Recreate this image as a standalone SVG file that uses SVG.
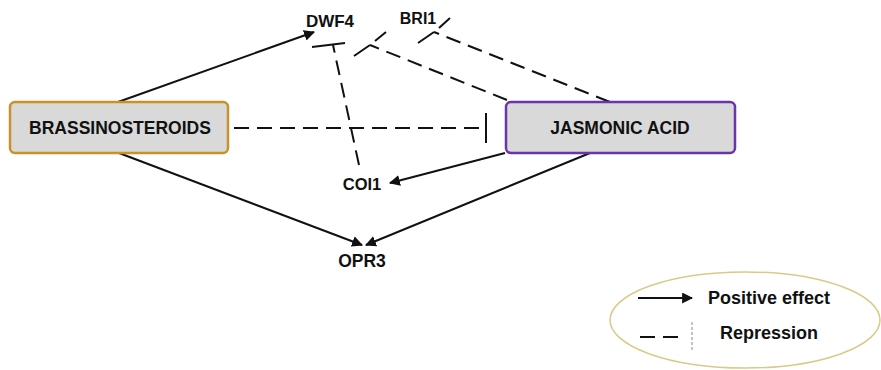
<svg xmlns="http://www.w3.org/2000/svg" width="881" height="370" viewBox="0 0 881 370">
  <defs>
    <marker id="arrow" viewBox="0 0 10 10" refX="9" refY="5" markerWidth="5.5" markerHeight="5.5" orient="auto" markerUnits="strokeWidth">
      <path d="M0,0 L10,5 L0,10 z" fill="#111"/>
    </marker>
    <style>
      .box { fill: #d9d9d9; stroke-width: 2.5; }
      .lbl { font-family: "Liberation Sans", Arial, sans-serif; font-weight: bold; fill: #111; }
      .pos { stroke: #111; stroke-width: 2; fill: none; marker-end: url(#arrow); }
      .rep { stroke: #111; stroke-width: 2; fill: none; stroke-dasharray: 15 8; }
      .bar { stroke: #111; stroke-width: 2; fill: none; }
    </style>
  </defs>
  <rect width="881" height="370" fill="#fff"/>

  <g id="connectors">
    <!-- positive effects -->
    <line class="pos" x1="118" y1="102" x2="314" y2="32"/>
    <line class="pos" x1="505" y1="153" x2="390" y2="183"/>
    <line class="pos" x1="119" y1="153" x2="362" y2="245"/>
    <line class="pos" x1="590" y1="153" x2="366" y2="245"/>

    <!-- brassinosteroids repress jasmonic acid -->
    <line class="rep" x1="234" y1="128" x2="484" y2="128"/>
    <line class="bar" x1="486" y1="113" x2="486" y2="143"/>

    <!-- COI1 represses DWF4 -->
    <line class="rep" x1="359" y1="165" x2="333" y2="45"/>
    <line class="bar" x1="312" y1="47" x2="345" y2="43"/>

    <!-- jasmonic acid represses DWF4 -->
    <line class="rep" x1="507" y1="100" x2="370" y2="45"/>
    <path class="bar" d="M354,56 L370,45 M375,41 L386,32"/>

    <!-- jasmonic acid represses BRI1 -->
    <line class="rep" x1="610" y1="102" x2="434" y2="32"/>
    <path class="bar" d="M418,43 L434,32 M439,28 L450,18"/>
  </g>

  <g id="brassinosteroids">
    <rect class="box" x="10" y="102" width="218" height="51" rx="5" stroke="#c8922a"/>
    <text class="lbl" x="120" y="134" font-size="17.5" text-anchor="middle">BRASSINOSTEROIDS</text>
  </g>

  <g id="jasmonic-acid">
    <rect class="box" x="506" y="102" width="229" height="51" rx="5" stroke="#6a35a8"/>
    <text class="lbl" x="620" y="134" font-size="17.5" text-anchor="middle">JASMONIC ACID</text>
  </g>

  <g id="dwf4">
    <text class="lbl" x="330" y="27" font-size="17" text-anchor="middle">DWF4</text>
  </g>

  <g id="bri1">
    <text class="lbl" x="418" y="24" font-size="16" text-anchor="middle">BRI1</text>
  </g>

  <g id="coi1">
    <text class="lbl" x="362" y="190" font-size="16.5" text-anchor="middle">COI1</text>
  </g>

  <g id="opr3">
    <text class="lbl" x="362" y="267" font-size="17.5" text-anchor="middle">OPR3</text>
  </g>

  <g id="legend">
    <ellipse cx="745" cy="320" rx="135" ry="48" fill="#fff" stroke="#d8cb88" stroke-width="1.5"/>
    <line class="pos" x1="638" y1="298" x2="692" y2="298"/>
    <text class="lbl" x="708" y="304" font-size="18">Positive effect</text>
    <line class="rep" x1="640" y1="337" x2="684" y2="337" stroke-dasharray="13 7"/>
    <line x1="692" y1="322" x2="692" y2="352" stroke="#888" stroke-width="1" stroke-dasharray="3 2"/>
    <text class="lbl" x="720" y="339" font-size="18">Repression</text>
  </g>
</svg>
